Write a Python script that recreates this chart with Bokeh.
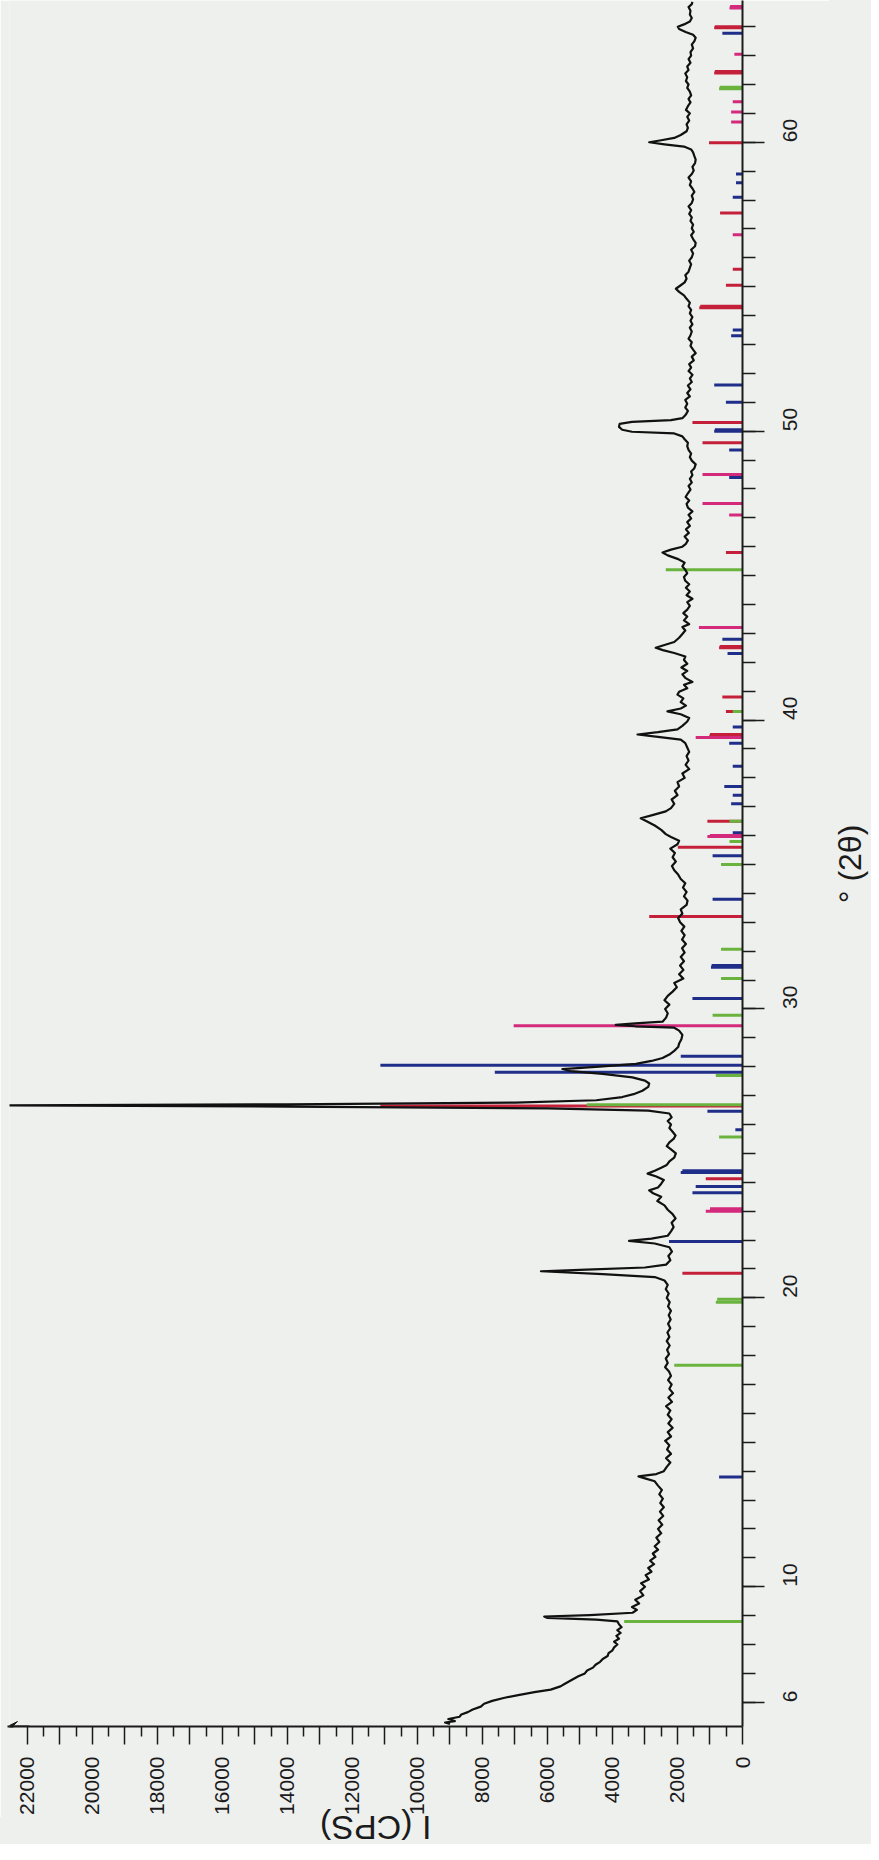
import math
from bokeh.plotting import figure
from bokeh.layouts import column, row
from bokeh.models import Range1d, FixedTicker, Arrow, VeeHead, ColumnDataSource, Div
from bokeh.embed import file_html
from bokeh.resources import INLINE

# ---- measured XRD pattern: (2theta in degrees, intensity in CPS) ----
pattern_points = [
    (5.25, 9000), (5.3, 9150), (5.35, 8850), (5.42, 9050), (5.5, 8700), (5.58, 8650), (5.66, 8450),
    (5.75, 8300), (5.85, 8050), (5.95, 7950), (6.05, 7700), (6.15, 7350), (6.25, 6900), (6.35, 6400),
    (6.44, 5900), (6.55, 5600), (6.65, 5450), (6.79, 5230), (6.9, 5050), (7.0, 4850), (7.1, 4780),
    (7.2, 4600), (7.3, 4520), (7.4, 4380), (7.5, 4300), (7.6, 4150), (7.7, 4120), (7.8, 4000),
    (7.9, 3950), (8.0, 3850), (8.1, 3950), (8.2, 3800), (8.3, 3880), (8.4, 3750), (8.5, 3850),
    (8.6, 3720), (8.7, 3800), (8.8, 3850), (8.86, 4500), (8.92, 6000), (8.97, 6100), (9.02, 4700),
    (9.1, 3380), (9.2, 3250), (9.3, 3400), (9.42, 3180), (9.55, 3300), (9.7, 3050), (9.85, 3150),
    (10.0, 3000), (10.12, 3120), (10.25, 2880), (10.4, 2980), (10.52, 2800), (10.65, 2900),
    (10.78, 2720), (10.9, 2840), (11.03, 2680), (11.15, 2760), (11.28, 2600), (11.4, 2700),
    (11.55, 2560), (11.7, 2650), (11.85, 2500), (12.0, 2600), (12.15, 2470), (12.3, 2580),
    (12.45, 2440), (12.6, 2540), (12.75, 2420), (12.9, 2530), (13.05, 2450), (13.2, 2560),
    (13.35, 2480), (13.5, 2600), (13.65, 2700), (13.75, 3000), (13.82, 3200), (13.9, 2650),
    (14.0, 2420), (14.15, 2330), (14.3, 2220), (14.45, 2350), (14.6, 2200), (14.75, 2320),
    (14.9, 2250), (15.05, 2380), (15.2, 2200), (15.35, 2300), (15.5, 2150), (15.65, 2280),
    (15.8, 2180), (15.95, 2300), (16.1, 2220), (16.25, 2350), (16.4, 2170), (16.55, 2280),
    (16.7, 2140), (16.85, 2250), (17.0, 2180), (17.15, 2290), (17.3, 2200), (17.45, 2260),
    (17.6, 2380), (17.75, 2300), (17.9, 2360), (18.05, 2260), (18.2, 2320), (18.35, 2240),
    (18.5, 2330), (18.65, 2250), (18.8, 2310), (18.95, 2220), (19.1, 2290), (19.25, 2210),
    (19.4, 2270), (19.55, 2200), (19.7, 2290), (19.85, 2240), (20.0, 2330), (20.15, 2270),
    (20.3, 2360), (20.45, 2300), (20.6, 2400), (20.72, 2700), (20.82, 4300), (20.92, 6200),
    (20.98, 4800), (21.05, 3000), (21.15, 2350), (21.3, 2220), (21.45, 2280), (21.6, 2170),
    (21.75, 2250), (21.88, 2700), (21.97, 3490), (22.05, 2800), (22.15, 2300), (22.3, 2200),
    (22.45, 2120), (22.6, 2180), (22.75, 2060), (22.9, 2150), (23.05, 2300), (23.2, 2400),
    (23.35, 2620), (23.5, 2500), (23.62, 2750), (23.72, 2870), (23.82, 2600), (23.95, 2500),
    (24.08, 2420), (24.2, 2650), (24.3, 2920), (24.4, 2700), (24.5, 2500), (24.6, 2330),
    (24.72, 2250), (24.85, 2100), (25.0, 2050), (25.12, 2180), (25.25, 2330), (25.38, 2250),
    (25.5, 2120), (25.62, 2060), (25.75, 2150), (25.88, 2250), (26.0, 2200), (26.12, 2300),
    (26.25, 2180), (26.38, 2250), (26.48, 2900), (26.56, 6000), (26.62, 14000), (26.66, 22600),
    (26.7, 14000), (26.76, 7000), (26.84, 4500), (26.95, 3700), (27.05, 3350), (27.17, 3080),
    (27.3, 2900), (27.42, 2870), (27.52, 3000), (27.63, 3390), (27.75, 4300), (27.85, 5300),
    (27.92, 5540), (28.0, 4400), (28.1, 3280), (28.2, 2800), (28.3, 2460), (28.42, 2250),
    (28.55, 2100), (28.68, 1980), (28.8, 1950), (28.95, 1880), (29.1, 1850), (29.25, 1950),
    (29.35, 2100), (29.4, 3300), (29.45, 3900), (29.5, 3300), (29.56, 2460), (29.7, 2350),
    (29.85, 2300), (30.0, 2380), (30.15, 2250), (30.3, 2400), (30.45, 2300), (30.6, 2150),
    (30.75, 2020), (30.9, 2100), (31.05, 1820), (31.2, 1950), (31.35, 1820), (31.5, 1920),
    (31.65, 1800), (31.8, 1900), (31.95, 1780), (32.1, 1860), (32.25, 1740), (32.4, 1860),
    (32.55, 1780), (32.7, 1880), (32.85, 1790), (33.0, 1920), (33.15, 1980), (33.3, 1850),
    (33.45, 1900), (33.6, 1720), (33.75, 1690), (33.9, 1800), (34.05, 1720), (34.2, 1830),
    (34.35, 1760), (34.5, 1900), (34.65, 1980), (34.8, 2100), (34.95, 2170), (35.1, 2050),
    (35.25, 2150), (35.4, 2080), (35.55, 2220), (35.7, 2000), (35.82, 1950), (35.95, 2200),
    (36.05, 2360), (36.2, 2500), (36.35, 2700), (36.5, 2950), (36.6, 3130), (36.7, 2800),
    (36.84, 2360), (36.95, 2200), (37.1, 2100), (37.25, 2180), (37.4, 2000), (37.55, 2080),
    (37.7, 1950), (37.85, 2000), (38.0, 1780), (38.15, 1850), (38.3, 1640), (38.45, 1750),
    (38.6, 1660), (38.75, 1720), (38.9, 1640), (39.05, 1700), (39.2, 1760), (39.32, 1900),
    (39.42, 2600), (39.5, 3230), (39.58, 2600), (39.68, 2000), (39.8, 1850), (39.95, 1700),
    (40.07, 1640), (40.2, 1900), (40.3, 2310), (40.4, 1900), (40.5, 1740), (40.62, 1900),
    (40.75, 1820), (40.88, 2000), (40.98, 1950), (41.1, 1700), (41.22, 1800), (41.32, 1540),
    (41.45, 1750), (41.58, 1850), (41.7, 1700), (41.82, 1880), (41.95, 1700), (42.08, 1800),
    (42.2, 1760), (42.32, 2100), (42.42, 2450), (42.5, 2670), (42.6, 2400), (42.7, 2100),
    (42.85, 1950), (42.98, 1850), (43.1, 1760), (43.22, 1850), (43.32, 1640), (43.45, 1800),
    (43.58, 1700), (43.7, 1820), (43.82, 1700), (43.95, 1620), (44.08, 1700), (44.2, 1540),
    (44.32, 1720), (44.45, 1620), (44.58, 1740), (44.7, 1640), (44.82, 1760), (44.95, 1800),
    (45.08, 1700), (45.2, 1760), (45.32, 1850), (45.45, 1780), (45.58, 2000), (45.7, 2300),
    (45.8, 2460), (45.9, 2200), (46.0, 1850), (46.1, 1740), (46.22, 1680), (46.35, 1780),
    (46.48, 1650), (46.6, 1740), (46.72, 1620), (46.85, 1700), (46.98, 1580), (47.1, 1660),
    (47.22, 1540), (47.35, 1680), (47.48, 1720), (47.6, 1640), (47.72, 1750), (47.85, 1680),
    (47.98, 1600), (48.1, 1660), (48.22, 1560), (48.35, 1620), (48.48, 1540), (48.6, 1580),
    (48.72, 1480), (48.85, 1440), (48.98, 1560), (49.1, 1620), (49.22, 1580), (49.35, 1660),
    (49.48, 1700), (49.6, 1680), (49.72, 1780), (49.82, 1850), (49.92, 2100), (49.98, 3400),
    (50.05, 3700), (50.15, 3800), (50.25, 3780), (50.32, 3400), (50.38, 2200), (50.45, 1850),
    (50.58, 1740), (50.7, 1680), (50.82, 1760), (50.95, 1700), (51.08, 1760), (51.2, 1620),
    (51.32, 1700), (51.45, 1600), (51.58, 1680), (51.7, 1560), (51.82, 1620), (51.95, 1540),
    (52.08, 1660), (52.2, 1580), (52.32, 1640), (52.45, 1500), (52.58, 1560), (52.7, 1440),
    (52.82, 1520), (52.95, 1600), (53.08, 1560), (53.2, 1660), (53.32, 1600), (53.45, 1560),
    (53.58, 1620), (53.7, 1540), (53.82, 1600), (53.95, 1540), (54.08, 1620), (54.2, 1580),
    (54.32, 1660), (54.45, 1620), (54.58, 1720), (54.7, 1800), (54.82, 1950), (54.93, 2050),
    (55.05, 1900), (55.15, 1780), (55.28, 1720), (55.4, 1760), (55.52, 1660), (55.65, 1620),
    (55.78, 1580), (55.9, 1640), (56.02, 1560), (56.15, 1520), (56.28, 1580), (56.4, 1460),
    (56.52, 1440), (56.65, 1520), (56.78, 1580), (56.9, 1500), (57.02, 1560), (57.15, 1520),
    (57.28, 1600), (57.4, 1560), (57.52, 1640), (57.65, 1580), (57.78, 1660), (57.9, 1560),
    (58.02, 1520), (58.15, 1560), (58.28, 1480), (58.4, 1540), (58.52, 1620), (58.65, 1580),
    (58.78, 1660), (58.9, 1560), (59.02, 1500), (59.15, 1540), (59.28, 1460), (59.4, 1440),
    (59.52, 1480), (59.65, 1520), (59.75, 1580), (59.85, 1800), (59.93, 2400), (60.0, 2870),
    (60.07, 2500), (60.15, 2100), (60.25, 1900), (60.38, 1720), (60.5, 1680), (60.62, 1720),
    (60.75, 1640), (60.88, 1700), (61.0, 1620), (61.12, 1740), (61.25, 1680), (61.38, 1600),
    (61.5, 1660), (61.62, 1580), (61.75, 1620), (61.88, 1700), (62.0, 1660), (62.12, 1740),
    (62.25, 1700), (62.38, 1760), (62.5, 1660), (62.62, 1700), (62.75, 1600), (62.88, 1660),
    (63.0, 1580), (63.12, 1600), (63.25, 1520), (63.38, 1560), (63.5, 1480), (63.62, 1440),
    (63.72, 1520), (63.82, 1750), (63.92, 1950), (64.0, 1990), (64.08, 1800), (64.18, 1620),
    (64.3, 1560), (64.42, 1620), (64.55, 1600), (64.68, 1660), (64.78, 1560), (64.86, 1540),
]
two_theta = [t for t, _ in pattern_points]
intensity = [i for _, i in pattern_points]

# ---- reference pattern sticks (2theta, height in CPS) ----
green_pos = [8.80, 17.67, 19.85, 19.95, 25.57, 26.68, 27.70, 29.78, 31.05, 32.07, 35.0, 35.8, 36.5, 40.3,
             45.2, 61.85, 61.9]
green_int = [3640, 2100, 820, 780, 720, 4790, 820, 920, 660, 660, 660, 400, 400, 300,
             2360, 720, 700]
blue_pos = [13.8, 21.95, 23.64, 23.85, 24.34, 24.4, 25.82, 26.46, 27.81, 28.05, 28.36, 30.36, 31.44, 31.5,
            33.8, 35.3, 36.1, 37.1, 37.4, 37.7, 38.4, 39.2, 39.76, 42.3, 42.8, 48.4, 49.35, 50.0, 50.05,
            51.0, 51.6, 53.3, 53.5, 58.1, 58.6, 58.9, 63.77]
blue_int = [720, 2260, 1540, 1440, 1900, 1850, 220, 1080, 7620, 11140, 1900, 1540, 970, 950,
            920, 920, 300, 350, 300, 560, 300, 410, 300, 460, 620, 410, 410, 870, 850,
            510, 870, 350, 300, 300, 200, 200, 620]
red_pos = [20.85, 24.12, 26.64, 33.2, 35.6, 36.5, 39.45, 39.5, 40.3, 40.8, 42.5, 42.55, 45.8, 49.6, 50.3,
           54.27, 54.32, 55.05, 55.6, 57.55, 59.98, 62.4, 62.45, 63.96, 64.0]
red_int = [1850, 1130, 11140, 2870, 1990, 1080, 1020, 1000, 510, 620, 720, 700, 510, 1230, 1540,
           1330, 1300, 510, 300, 690, 1030, 870, 850, 870, 850]
magenta_pos = [23.0, 23.08, 29.42, 35.97, 36.0, 39.4, 43.2, 47.1, 47.5, 48.5, 56.8, 60.7, 61.05, 61.4,
               63.05, 64.65, 64.7]
magenta_int = [1130, 1000, 7040, 1080, 1000, 1440, 1340, 410, 1230, 1230, 300, 350, 350, 300,
               250, 400, 380]

int_ticks = list(range(0, 22001, 1000))
int_minor = list(range(500, 22001, 1000))
theta_ticks = [6, 10, 20, 30, 40, 50, 60]
theta_minor = list(range(5, 65))

BG = "#eef0ee"
INK = "#1b1b1b"
FONT = "Liberation Sans"

p = figure(width=829, height=1817,
           x_range=Range1d(22550, 0), y_range=Range1d(5.162, 64.907),
           x_axis_location="below", y_axis_location="right",
           output_backend="svg", toolbar_location=None,
           min_border_left=9, min_border_right=87, min_border_top=0, min_border_bottom=88,
           background_fill_color=BG, border_fill_color=BG, outline_line_color=None)
p.grid.visible = False

stick_sets = [(blue_pos, blue_int, "#1f2e88"), (red_pos, red_int, "#c4203a"),
              (magenta_pos, magenta_int, "#d42a7c"), (green_pos, green_int, "#6ab33e")]
for pos, inten, col in stick_sets:
    src = ColumnDataSource(dict(t=pos, i=inten, z=[0] * len(pos)))
    p.segment(x0="z", y0="t", x1="i", y1="t", source=src, line_color=col, line_width=3)

p.line(x=intensity, y=two_theta, line_color="#111111", line_width=2.2, line_join="round")

# intensity axis (bottom of the rotated page)
xa = p.xaxis[0]
xa.ticker = FixedTicker(ticks=int_ticks, minor_ticks=int_minor)
xa.major_label_overrides = {t: ("" if t % 2000 else str(t)) for t in int_ticks}
xa.major_label_orientation = math.pi / 2
xa.major_label_text_font = FONT
xa.major_label_text_font_size = "21px"
xa.major_label_text_color = INK
xa.major_label_standoff = 12
xa.major_tick_out = 18
xa.major_tick_in = 0
xa.minor_tick_out = 10
xa.minor_tick_in = 0
xa.axis_line_width = 2
xa.axis_line_color = INK
xa.major_tick_line_color = INK
xa.minor_tick_line_color = INK
xa.major_tick_line_width = 1.5
xa.minor_tick_line_width = 1.5

# 2theta axis (right of the rotated page)
ya = p.yaxis[0]
ya.ticker = FixedTicker(ticks=theta_ticks, minor_ticks=theta_minor)
ya.major_label_orientation = math.pi / 2
ya.major_label_text_font = FONT
ya.major_label_text_font_size = "21px"
ya.major_label_text_color = INK
ya.major_label_standoff = 26
ya.major_tick_out = 22
ya.major_tick_in = 0
ya.minor_tick_out = 13
ya.minor_tick_in = 0
ya.axis_line_width = 2
ya.axis_line_color = INK
ya.major_tick_line_color = INK
ya.minor_tick_line_color = INK
ya.major_tick_line_width = 1.5
ya.minor_tick_line_width = 1.5

p.add_layout(Arrow(x_start=20, y_start=0, x_end=-2, y_end=0, start_units="screen", end_units="screen",
                   line_color=INK, line_width=2,
                   end=VeeHead(size=10, line_color=INK, fill_color=INK, line_width=1)))

# axis titles, turned as on the photographed page
bottom_title = Div(
    text='<span style="display:inline-block;margin-left:320px;'
         'transform:translateY(-3px) rotate(180deg);">I (CPS)</span>',
    width=829, height=27, margin=0,
    styles={"background-color": BG, "font-family": FONT, "font-size": "34px",
            "line-height": "27px", "color": INK, "white-space": "nowrap", "overflow": "visible"})

right_title = Div(
    text='<div style="height:1728px;width:42px;display:flex;align-items:center;justify-content:center;">'
         '<span style="display:inline-block;transform:rotate(-90deg);white-space:nowrap;">° (2θ)</span>'
         '</div>',
    width=42, height=1844, margin=0,
    styles={"background-color": BG, "font-family": FONT, "font-size": "32px",
            "line-height": "36px", "color": INK, "overflow": "visible"})

page = row(column(p, bottom_title, spacing=0), right_title, spacing=0)

open("out.html", "w").write(file_html(page, INLINE))
